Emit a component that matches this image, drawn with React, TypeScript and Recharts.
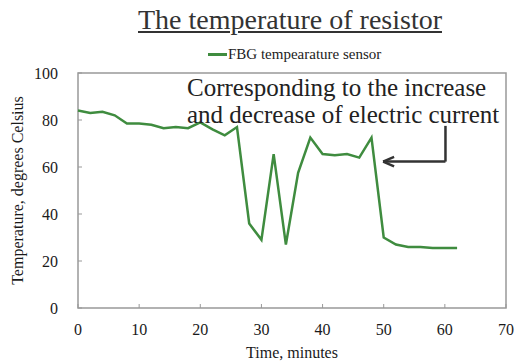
import {
  LineChart,
  Line,
  XAxis,
  YAxis,
  Legend,
  Label,
  ReferenceArea,
  ReferenceLine,
} from 'recharts';

const minutes = [0, 2, 4, 6, 8, 10, 12, 14, 16, 18, 20, 22, 24, 26, 28, 30, 32, 34, 36, 38, 40, 42, 44, 46, 48, 50, 52, 54, 56, 58, 60, 62];
const fbgTemp = [84, 83, 83.5, 82, 78.5, 78.5, 78, 76.5, 77, 76.5, 79, 76, 73.5, 77, 36, 29, 65.5, 27, 57.5, 72.5, 65.5, 65, 65.5, 64, 72.5, 30, 27, 26, 26, 25.5, 25.5, 25.5];
const xTicks = [0, 10, 20, 30, 40, 50, 60, 70];
const yTicks = [0, 20, 40, 60, 80, 100];

// arrow for the annotation, in data units
const arrowTop = { x: 60.1, y: 77.5 };
const arrowCorner = { x: 60.1, y: 62.3 };
const arrowTip = { x: 49.9, y: 62.3 };

const data = minutes.map((m, i) => ({ t: m, temp: fbgTemp[i] }));

const serif = '"Liberation Serif", "Times New Roman", serif';
const green = '#3f8c3f';

const LegendContent = () => (
  <div style={{ display: 'flex', alignItems: 'center', fontFamily: serif, fontSize: 15, color: '#222' }}>
    <span style={{ display: 'inline-block', width: 19, height: 3, background: green, marginRight: 1 }} />
    <span>FBG tempearature sensor</span>
  </div>
);

export default function App() {
  return (
    <div style={{ position: 'relative', width: 515, height: 362, background: '#fff', fontFamily: serif }}>
      <style>{`body{margin:0} svg text, svg tspan{font-family:${serif} !important}`}</style>
      <div
        style={{
          position: 'absolute',
          left: 138,
          top: 4,
          fontSize: 28,
          lineHeight: '32px',
          color: '#333',
          textDecoration: 'underline',
          whiteSpace: 'nowrap',
        }}
      >
        The temperature of resistor
      </div>
      <LineChart width={515} height={362} data={data} margin={{ top: 73, right: 9, left: 0, bottom: 0 }}>
        <XAxis
          dataKey="t"
          type="number"
          domain={[0, 70]}
          ticks={xTicks}
          height={54}
          axisLine={false}
          tickSize={-4}
          tickMargin={20}
          tickLine={{ stroke: '#999' }}
          tick={{ fontSize: 16, fill: '#1a1a1a' }}
        >
          <Label value="Time, minutes" position="insideBottom" offset={4} style={{ fontSize: 16, fill: '#1a1a1a' }} />
        </XAxis>
        <YAxis
          type="number"
          domain={[0, 100]}
          ticks={yTicks}
          width={78}
          axisLine={false}
          tickSize={-4}
          tickMargin={24}
          tickLine={{ stroke: '#999' }}
          tick={{ fontSize: 16, fill: '#1a1a1a' }}
        >
          <Label
            value="Temperature, degrees Celsius"
            angle={-90}
            position="insideLeft"
            offset={17}
            style={{ fontSize: 16, fill: '#1a1a1a', textAnchor: 'middle' }}
          />
        </YAxis>
        <ReferenceArea x1={0} x2={70} y1={0} y2={100} fill="none" stroke="#999" strokeWidth={1.5} />
        <Legend
          layout="horizontal"
          verticalAlign="middle"
          align="center"
          content={<LegendContent />}
          wrapperStyle={{ top: 46, left: 208, width: 'auto' }}
        />
        <Line
          type="linear"
          dataKey="temp"
          name="FBG tempearature sensor"
          stroke={green}
          strokeWidth={2.5}
          dot={false}
          isAnimationActive={false}
        />
        <ReferenceLine segment={[arrowTop, arrowCorner]} stroke="#333" strokeWidth={2.5} />
        <ReferenceLine segment={[arrowCorner, arrowTip]} stroke="#333" strokeWidth={2.5} />
        <ReferenceLine segment={[arrowTip, { x: arrowTip.x + 1.8, y: arrowTip.y + 2 }]} stroke="#333" strokeWidth={2.5} />
        <ReferenceLine segment={[arrowTip, { x: arrowTip.x + 1.8, y: arrowTip.y - 2 }]} stroke="#333" strokeWidth={2.5} />
      </LineChart>
      <div
        style={{
          position: 'absolute',
          left: 187,
          top: 74,
          fontSize: 25,
          lineHeight: '27px',
          color: '#222',
          whiteSpace: 'nowrap',
        }}
      >
        Corresponding to the increase
        <br />
        and decrease of electric current
      </div>
    </div>
  );
}
